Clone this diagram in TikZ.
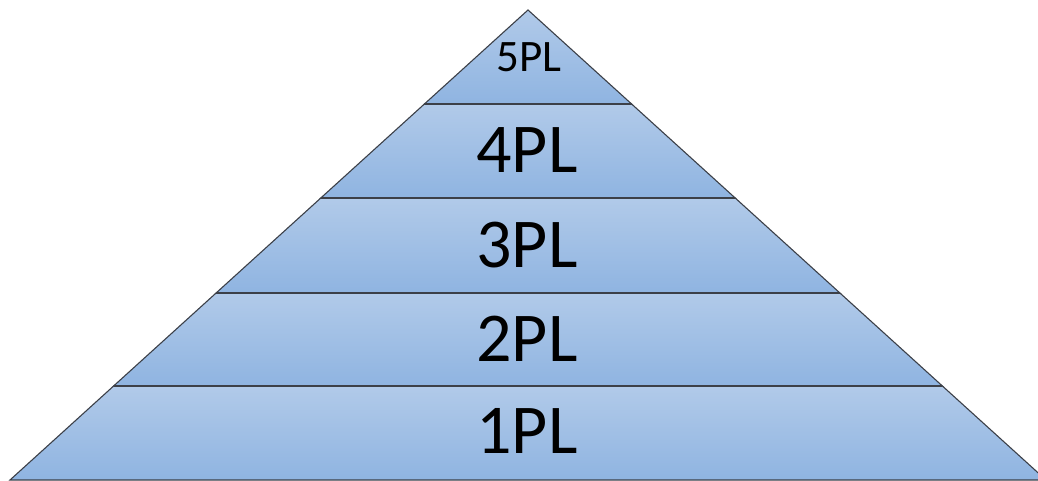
\documentclass[tikz,border=0pt]{standalone}
\usepackage{fontspec}
\setmainfont{Carlito}
\definecolor{laytop}{RGB}{177,202,233}
\definecolor{laybot}{RGB}{143,180,225}
\definecolor{edge}{RGB}{60,64,72}
\tikzset{
  layer/.style={top color=laytop, bottom color=laybot, draw=edge, line width=1.1pt, line join=miter},
  sepline/.style={draw=edge, line width=1.8pt},
  biglabel/.style={font=\fontsize{70}{70}\selectfont, inner sep=0pt, anchor=center},
  smalllabel/.style={font=\fontsize{45}{45}\selectfont, inner sep=0pt, anchor=center}
}
\begin{document}
\begin{tikzpicture}[x=1pt,y=-1pt]
\useasboundingbox (0,0) rectangle (1038,481);
\clip (0,0) rectangle (1038,481);
% layers, bottom to top
\path[layer] (10,480) -- (113.6,386) -- (942.4,386) -- (1046,480) -- cycle;
\path[layer] (113.6,386) -- (216.1,293) -- (839.9,293) -- (942.4,386) -- cycle;
\path[layer] (216.1,293) -- (320.8,198) -- (735.2,198) -- (839.9,293) -- cycle;
\path[layer] (320.8,198) -- (424.4,104) -- (631.6,104) -- (735.2,198) -- cycle;
\path[layer] (424.4,104) -- (528,10) -- (631.6,104) -- cycle;
% separators
\path[sepline] (113.6,386) -- (942.4,386);
\path[sepline] (216.1,293) -- (839.9,293);
\path[sepline] (320.8,198) -- (735.2,198);
\path[sepline] (424.4,104) -- (631.6,104);
% labels
\node[smalllabel] (l5) at (529,57) {5PL};
\node[biglabel] (l4) at (527,150) {4PL};
\node[biglabel] (l3) at (527,245) {3PL};
\node[biglabel] (l2) at (527,339) {2PL};
\node[biglabel] (l1) at (527,431) {1PL};
\end{tikzpicture}
\end{document}
